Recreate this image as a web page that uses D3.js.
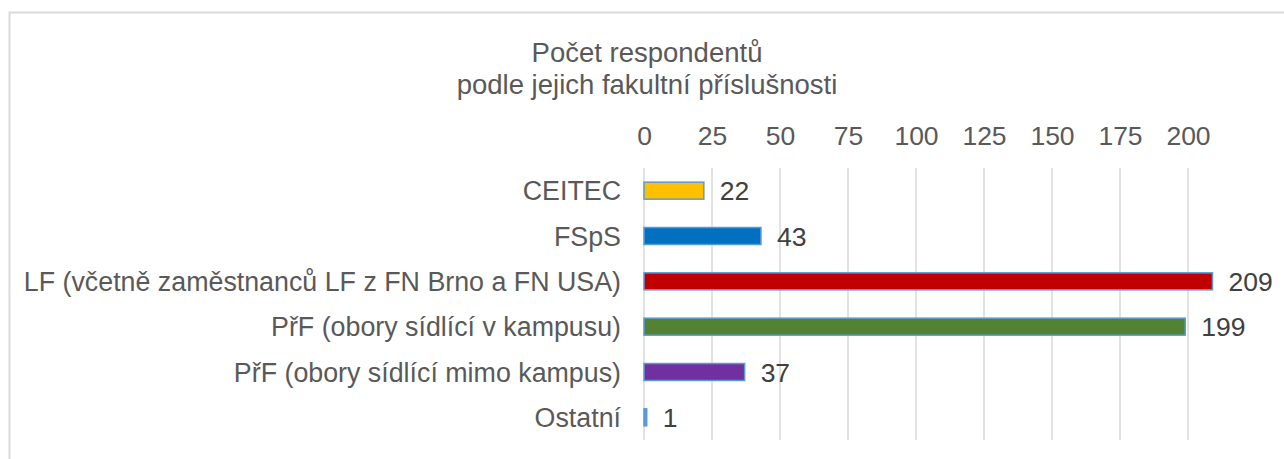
<!DOCTYPE html>
<html><head><meta charset="utf-8">
<script src="https://cdn.jsdelivr.net/npm/d3@7"></script>
<style>html,body{margin:0;padding:0;background:#fff;overflow:hidden}</style>
</head><body>
<script>
const categories = ["CEITEC","FSpS","LF (včetně zaměstnanců LF z FN Brno a FN USA)","PřF (obory sídlící v kampusu)","PřF (obory sídlící mimo kampus)","Ostatní"];
const values = [22, 43, 209, 199, 37, 1];
const colors = ["#FFC000","#0070C0","#C00000","#548235","#7030A0","#5B9BD5"];
const ticks = [0,25,50,75,100,125,150,175,200];
const titleLines = ["Počet respondentů","podle jejich fakultní příslušnosti"];

const W=1284,H=459;
const svg=d3.select("body").append("svg").attr("width",W).attr("height",H);
const font="Liberation Sans, Arial, sans-serif";
svg.append("rect").attr("x",9.5).attr("y",12.5).attr("width",W+20).attr("height",H+20)
  .attr("fill","none").attr("stroke","#d9d9d9").attr("stroke-width",2);

const x=d3.scaleLinear().domain([0,210]).range([644,644+210*2.72]);
const y=d3.scaleBand().domain(categories).range([168,440]).paddingInner(0.625).paddingOuter(0.3125);

svg.selectAll(".title").data(titleLines).join("text")
  .attr("x",647).attr("y",(d,i)=>62+i*32).attr("text-anchor","middle")
  .attr("font-family",font).attr("font-size",27.5).attr("fill","#595959").text(d=>d);

const ax=d3.axisTop(x).tickValues(ticks).tickSize(0).tickPadding(0);
const g=svg.append("g").attr("transform","translate(0,145)").call(ax);
g.select(".domain").remove();
g.selectAll("text").attr("font-family",font).attr("font-size",26.5).attr("fill","#595959").attr("dy",0);

svg.append("g").selectAll("line").data(ticks).join("line")
  .attr("x1",d=>x(d)).attr("x2",d=>x(d)).attr("y1",168).attr("y2",440)
  .attr("stroke","#d9d9d9").attr("stroke-width",1.5);

svg.append("g").selectAll("rect").data(values).join("rect")
  .attr("x",x(0)).attr("y",(d,i)=>y(categories[i])).attr("height",y.bandwidth())
  .attr("width",d=>x(d)-x(0)).attr("fill",(d,i)=>colors[i])
  .attr("stroke","#5B9BD5").attr("stroke-width",1.5);

svg.append("g").selectAll("text").data(values).join("text")
  .attr("x",d=>x(d)+16).attr("y",(d,i)=>y(categories[i])+y.bandwidth()/2).attr("dy","0.36em")
  .attr("font-family",font).attr("font-size",26.5).attr("fill","#404040").text(d=>d);

svg.append("g").selectAll("text").data(categories).join("text")
  .attr("x",621).attr("y",d=>y(d)+y.bandwidth()/2).attr("dy","0.36em").attr("text-anchor","end")
  .attr("font-family",font).attr("font-size",26.8).attr("fill","#595959").text(d=>d);
</script>
</body></html>
